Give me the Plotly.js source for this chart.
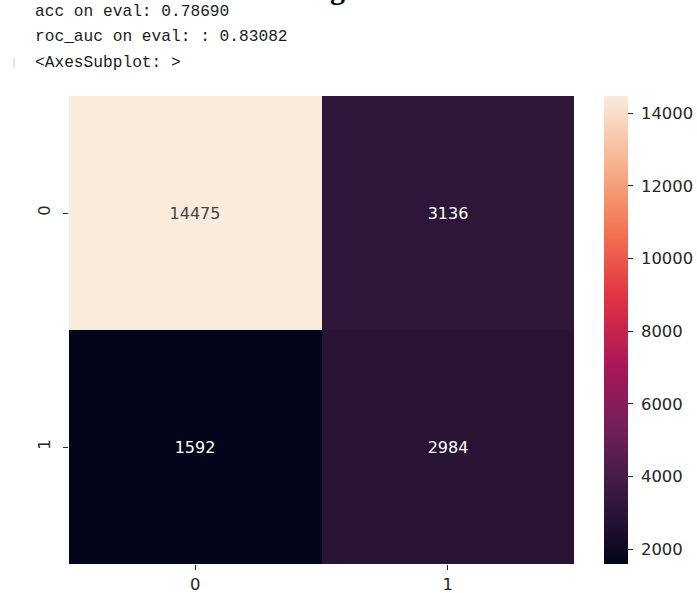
<!DOCTYPE html>
<html>
<head>
<meta charset="utf-8">
<script src="https://cdn.plot.ly/plotly-3.0.1.min.js"></script>
<style>html,body{margin:0;padding:0;background:#fff;}#chart{width:697px;height:593px;}</style>
</head>
<body>
<div id="chart"></div>
<script>
// Data
const xLabels = ['0', '1'];
const yLabels = ['0', '1'];
const rowActual0 = [14475, 3136];
const rowActual1 = [1592, 2984];
const colorbarTicks = [2000, 4000, 6000, 8000, 10000, 12000, 14000];
const outputLines = ['acc on eval: 0.78690', 'roc_auc on eval: : 0.83082', '<AxesSubplot: >'];

const z = [rowActual0, rowActual1];
const allVals = z.flat();
const zmin = Math.min(...allVals), zmax = Math.max(...allVals);

const rocket = [
  [0.0, '#03051A'],
  [1/7, '#35193E'],
  [2/7, '#701F57'],
  [3/7, '#AD1759'],
  [4/7, '#E13342'],
  [5/7, '#F37651'],
  [6/7, '#F6B48F'],
  [1.0, '#FAEBDD']
];

const cellText = z.map(r => r.map(v => String(v)));

const trace = {
  type: 'heatmap',
  x: xLabels,
  y: yLabels,
  z: z,
  zmin: zmin,
  zmax: zmax,
  colorscale: rocket,
  text: cellText,
  texttemplate: '%{text}',
  textfont: {family: 'DejaVu Sans', size: 16},
  hoverinfo: 'skip',
  xgap: 0, ygap: 0,
  colorbar: {
    x: (604 - 69) / 505, xanchor: 'left', xpad: 0,
    y: 0.5, yanchor: 'middle', len: 1, lenmode: 'fraction', ypad: 0,
    thickness: 24,
    outlinewidth: 0,
    tickmode: 'array', tickvals: colorbarTicks, ticktext: colorbarTicks.map(v => '\u00a0' + v),
    ticks: 'outside', ticklen: 5, tickwidth: 1, tickcolor: '#262626',
    tickfont: {family: 'DejaVu Sans', size: 16.4, color: '#262626'}
  }
};

const annotations = [];
outputLines.forEach((t, i) => {
  annotations.push({
    xref: 'paper', yref: 'paper',
    x: (33 - 69) / 505, xanchor: 'left',
    y: 1 + (96 - [12, 37, 63][i]) / 468, yanchor: 'middle',
    text: t.replace(/</g, '&lt;').replace(/>/g, '&gt;'),
    showarrow: false,
    font: {family: 'Liberation Mono', size: 16.2, color: '#1a1a1a'}
  });
});
annotations.push({
  xref: 'paper', yref: 'paper',
  x: (337 - 69) / 505, xanchor: 'center',
  y: 1 + (96 - 7) / 468, yanchor: 'bottom',
  text: '<b>g</b>', showarrow: false,
  font: {family: 'Liberation Serif', size: 30, color: '#000'}
});

const layout = {
  width: 697, height: 593,
  margin: {l: 69, r: 123, t: 96, b: 29, pad: 0, autoexpand: false},
  paper_bgcolor: '#ffffff',
  plot_bgcolor: '#ffffff',
  showlegend: false,
  font: {family: 'DejaVu Sans', color: '#262626'},
  xaxis: {
    type: 'category', showgrid: false, zeroline: false, showline: false,
    ticks: 'outside', ticklen: 5, tickwidth: 1, tickcolor: '#262626',
    ticklabelstandoff: 0,
    tickfont: {family: 'DejaVu Sans', size: 16.4, color: '#262626'},
    fixedrange: true
  },
  yaxis: {
    type: 'category', autorange: 'reversed', showgrid: false, zeroline: false, showline: false,
    ticks: 'outside', ticklen: 5, tickwidth: 1, tickcolor: '#262626',
    tickangle: -90,
    ticklabelstandoff: 6,
    tickfont: {family: 'DejaVu Sans', size: 16.4, color: '#262626'},
    fixedrange: true
  },
  annotations: annotations,
  shapes: [{
    type: 'rect', xref: 'paper', yref: 'paper',
    x0: (13 - 69) / 505, x1: (15 - 69) / 505,
    y0: 1 + (96 - 68) / 468, y1: 1 + (96 - 58) / 468,
    fillcolor: '#e6e6e6', line: {width: 0}
  }]
};

Plotly.newPlot('chart', [trace], layout, {displayModeBar: false, staticPlot: true});
</script>
</body>
</html>
